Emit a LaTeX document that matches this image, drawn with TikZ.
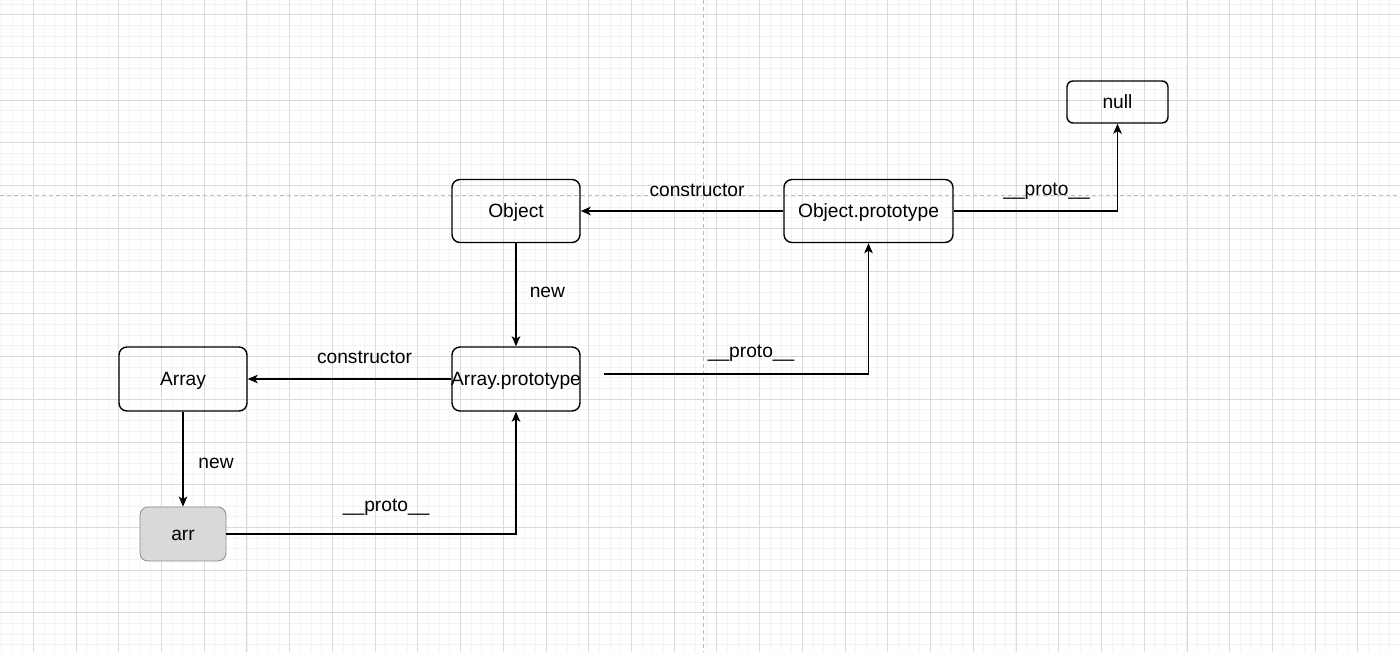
\documentclass[tikz,border=0pt]{standalone}
\usepackage{fontspec}
\setmainfont{Liberation Sans}
\usetikzlibrary{positioning,arrows.meta}

\definecolor{gridmajor}{HTML}{DADADA}
\definecolor{gridminor}{HTML}{F3F3F3}
\definecolor{guideline}{HTML}{BDBDBD}
\definecolor{arrfill}{HTML}{D9D9D9}
\definecolor{arrline}{HTML}{8C8C8C}

\begin{document}
\begin{tikzpicture}[%
    >={Stealth[length=10pt,width=8.5pt,inset=2.5pt]}, % draw.io style heads
    on grid,                                          % place boxes centre to centre
    every node/.style={font=\fontsize{19.2}{23}\selectfont},
    ]
% -------------------------------------------------
% Box and connector styles
\tikzset{
  base/.style={draw, rounded corners=8pt, line width=1.4pt, align=center, inner sep=0pt,
               text height=17.4pt, text depth=4.1pt},
  obox/.style={base, minimum width=128pt, minimum height=63pt},
  pbox/.style={base, minimum width=169pt, minimum height=63pt},
  sbox/.style={base, rounded corners=6pt, minimum width=101pt, minimum height=42pt},
  ibox/.style={base, fill=arrfill, draw=arrline, line width=0.8pt,
               minimum width=86pt, minimum height=54pt},
  % Connector line styles
  link/.style={->, draw, line width=1.5pt},
  lbl/.style={inner sep=0pt},
  % Background sheet
  minorgrid/.style={draw=gridminor, line width=0.8pt},
  majorgrid/.style={draw=gridmajor, line width=1pt},
  guide/.style={draw=guideline, line width=1pt, dash pattern=on 4pt off 3pt}
}
% -------------------------------------------------
% The sheet with its grid
\useasboundingbox (0,0) rectangle (1400pt,-652pt);
\begin{scope}
  \clip (0,0) rectangle (1400pt,-652pt);
  \fill[white] (0,0) rectangle (1400pt,-652pt);
  \draw[minorgrid, shift={(33.3pt,-14.7pt)}, step=10.68pt] (-50pt,-660pt) grid (1400pt,30pt);
  \draw[majorgrid, shift={(33.3pt,-14.7pt)}, step=42.73pt] (-50pt,-660pt) grid (1400pt,30pt);
  \draw[guide] (703.5pt,0) -- (703.5pt,-652pt);
  \draw[guide] (0,-196pt) -- (1400pt,-196pt);
\end{scope}
% -------------------------------------------------
% Start by placing the nodes
\node [obox] (obj) at (516pt,-211pt) {Object};
\node [pbox, right=352.5pt of obj] (objproto) {Object.prototype};
\node [sbox, above right=109pt and 249pt of objproto] (nul) {null};
\node [obox, minimum height=64pt, below=168pt of obj] (arrproto) {\makebox[0pt]{Array.prototype}};
\node [obox, minimum height=64pt, left=333pt of arrproto] (arrfn) {Array};
\node [ibox, below=155pt of arrfn] (arr) {arr};
\coordinate (apout) at ([xshift=23pt,yshift=5pt]arrproto.east);

% Then the connectors with their labels
\draw [link] (objproto) -- node [lbl, above=14pt, xshift=15pt] (objctor) {constructor} (obj);
\draw [link] (objproto) -| node [lbl, pos=0.25, above=11pt, xshift=11pt] (objup) {\_\_proto\_\_} (nul);
\draw [link] (obj) -- node [lbl, right=13pt, yshift=2.5pt] (objnew) {new} (arrproto);
\draw [link] (arrproto) -- node [lbl, above=15pt, xshift=15pt] (arrctor) {constructor} (arrfn);
\draw [link] (apout) -| node [lbl, pos=0.25, above=12pt, xshift=15pt] (arrup) {\_\_proto\_\_} (objproto);
\draw [link] (arrfn) -- node [lbl, right=14.7pt, yshift=-4.5pt] (arrnew) {new} (arr);
\draw [link] (arr) -| node [lbl, pos=0.25, above=18pt, xshift=15pt] (instup) {\_\_proto\_\_} (arrproto);

% -------------------------------------------------
\end{tikzpicture}
\end{document}
